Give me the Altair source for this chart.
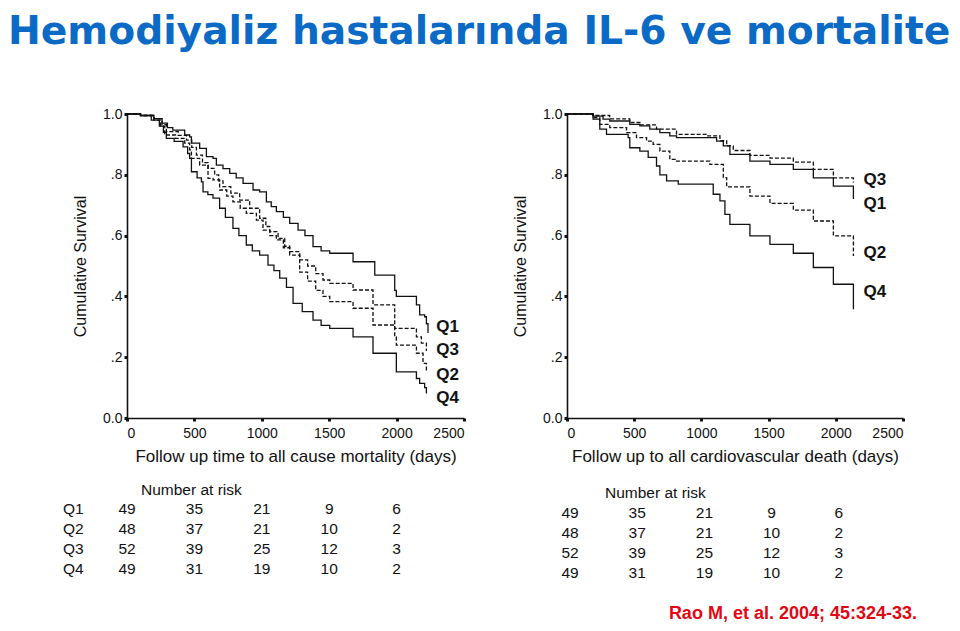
import altair as alt
import pandas as pd

TITLE = "Hemodiyaliz hastalarında IL-6 ve mortalite"
CITATION = "Rao M, et al. 2004; 45:324-33."
GROUPS = ["Q1", "Q2", "Q3", "Q4"]

# ---- all-cause mortality (left) ----
ac_q1_days = [0, 100, 200, 260, 300, 340, 428, 465, 478, 539, 589, 638, 663, 712, 762, 810, 861, 935, 984, 1034,
              1070, 1108, 1160, 1207, 1269, 1320, 1380, 1440, 1504, 1677, 1838, 1986, 1998, 2147, 2171, 2208, 2221, 2233]
ac_q1_surv = [1.0, .995, .985, .97, .955, .947, .931, .925, .904, .887, .86, .854, .832, .82, .805, .79, .772, .75, .744, .711,
              .695, .679, .66, .64, .618, .60, .564, .55, .542, .514, .47, .42, .40, .372, .339, .333, .31, .28]
ac_q2_days = [0, 100, 200, 250, 280, 360, 428, 465, 478, 539, 601, 638, 687, 740, 786, 840, 885, 960, 1009, 1060,
              1108, 1160, 1207, 1281, 1340, 1400, 1454, 1504, 1677, 1825, 1986, 1998, 2147, 2196, 2221]
ac_q2_surv = [1.0, .995, .98, .96, .931, .92, .904, .882, .854, .832, .788, .783, .75, .73, .711, .69, .673, .651, .618, .60,
              .586, .56, .536, .48, .45, .42, .40, .383, .361, .306, .267, .24, .213, .18, .152]
ac_q3_days = [0, 100, 200, 260, 292, 380, 441, 480, 515, 560, 601, 650, 680, 712, 770, 836, 910, 984, 1030, 1059,
              1121, 1170, 1207, 1281, 1340, 1400, 1454, 1504, 1677, 1825, 1986, 2147, 2184, 2221]
ac_q3_surv = [1.0, .995, .985, .965, .942, .93, .914, .89, .865, .84, .821, .80, .78, .761, .74, .717, .69, .657, .63, .613,
              .591, .565, .547, .52, .50, .475, .454, .443, .421, .372, .295, .267, .246, .22]
ac_q4_days = [0, 100, 180, 240, 270, 292, 350, 416, 450, 465, 478, 520, 552, 564, 600, 638, 687, 730, 786, 830,
              885, 930, 984, 1046, 1090, 1133, 1183, 1232, 1300, 1380, 1440, 1504, 1677, 1825, 1998, 2147, 2171, 2208, 2221]
ac_q4_surv = [1.0, .995, .98, .96, .94, .92, .91, .892, .87, .854, .81, .79, .777, .744, .735, .723, .69, .66, .624, .60,
              .569, .55, .536, .503, .485, .46, .43, .377, .35, .322, .305, .295, .267, .213, .152, .13, .114, .10, .081]

# ---- cardiovascular death (right) ----
cv_q1_days = [0, 194, 268, 318, 467, 542, 616, 691, 765, 815, 1113, 1163, 1212, 1361, 1510, 1684, 1833, 1982, 2131]
cv_q1_surv = [1.0, .993, .983, .977, .966, .961, .95, .939, .928, .922, .911, .895, .867, .845, .834, .818, .79, .763, .72]
cv_q2_days = [0, 194, 244, 318, 443, 517, 592, 641, 691, 765, 815, 1063, 1163, 1188, 1361, 1510, 1684, 1833, 1982, 2131]
cv_q2_surv = [1.0, .988, .966, .955, .939, .922, .911, .90, .878, .851, .845, .834, .791, .76, .73, .706, .684, .648, .599, .533]
cv_q3_days = [0, 194, 318, 467, 542, 666, 815, 1039, 1138, 1188, 1237, 1361, 1510, 1684, 1833, 1982, 2131]
cv_q3_surv = [1.0, .995, .984, .972, .964, .95, .933, .928, .912, .895, .88, .864, .855, .842, .818, .79, .775]
cv_q4_days = [0, 194, 244, 294, 455, 467, 542, 604, 666, 691, 741, 828, 1088, 1138, 1175, 1212, 1361, 1510, 1684, 1833,
              1982, 2131]
cv_q4_surv = [1.0, .983, .95, .933, .922, .889, .878, .857, .829, .80, .78, .769, .736, .714, .67, .637, .599, .571, .542, .495,
              .44, .358]

# ---- number at risk ----
risk_days = [0, 500, 1000, 1500, 2000]
risk_q1 = [49, 35, 21, 9, 6]
risk_q2 = [48, 37, 21, 10, 2]
risk_q3 = [52, 39, 25, 12, 3]
risk_q4 = [49, 31, 19, 10, 2]

# ---- curve end labels (anchor in data units) ----
ac_label_day = 2295
ac_label_surv = {"Q1": 0.30, "Q3": 0.224, "Q2": 0.141, "Q4": 0.067}
cv_label_day = 2206
cv_label_surv = {"Q3": 0.782, "Q1": 0.703, "Q2": 0.544, "Q4": 0.414}

FONT = "Liberation Sans"


def curves_df(parts):
    rows = []
    for g, days, surv in parts:
        assert len(days) == len(surv), g
        for d, s in zip(days, surv):
            rows.append({"group": g, "day": d, "surv": s})
    return pd.DataFrame(rows)


def panel(parts, label_day, label_surv, xtitle, width, risk_y0, risk_dx, nar_x, nar_y,
          row_labels, citation=False, title=False):
    df = curves_df(parts)
    xscale = alt.Scale(domain=[0, 2500], nice=False)
    yscale = alt.Scale(domain=[0, 1], nice=False)
    lines = alt.Chart(df).mark_line(interpolate="step-after", color="#111", strokeWidth=1.3).encode(
        x=alt.X("day:Q", scale=xscale,
                axis=alt.Axis(values=[0, 500, 1000, 1500, 2000, 2500], format="d", title=xtitle, titleFontSize=17,
                              titlePadding=8, labelPadding=5)),
        y=alt.Y("surv:Q", scale=yscale,
                axis=alt.Axis(values=[0, .2, .4, .6, .8, 1.0], title="Cumulative Survival", titleFontSize=16,
                              titlePadding=14, labelPadding=2,
                              labelExpr="datum.value == 0 ? '0.0' : datum.value == 1 ? '1.0' : '.' + round(datum.value * 10)")),
        strokeDash=alt.StrokeDash("group:N", scale=alt.Scale(domain=GROUPS, range=[[1, 0], [4, 2], [4, 2], [1, 0]]),
                                  legend=None),
    )
    ldf = pd.DataFrame({"group": list(label_surv.keys()), "surv": list(label_surv.values()),
                        "day": [label_day] * len(label_surv)})
    labels = alt.Chart(ldf).mark_text(align="left", baseline="middle", font=FONT, fontSize=17,
                                      fontWeight="bold", color="#111").encode(
        x=alt.X("day:Q", scale=xscale), y=alt.Y("surv:Q", scale=yscale), text="group:N")
    layers = [lines, labels]

    risk = [risk_q1, risk_q2, risk_q3, risk_q4]
    for i, g in enumerate(GROUPS):
        rdf = pd.DataFrame({"day": risk_days, "n": risk[i]})
        layers.append(alt.Chart(rdf).mark_text(align="center", baseline="middle", font=FONT, fontSize=15.5,
                                               color="#111", dx=risk_dx).encode(
            x=alt.X("day:Q", scale=xscale), y=alt.value(risk_y0 + 20 * i), text="n:Q"))
        if row_labels:
            layers.append(alt.Chart(pd.DataFrame({"g": [g]})).mark_text(
                align="left", baseline="middle", font=FONT, fontSize=15.5, color="#111").encode(
                x=alt.value(-64), y=alt.value(risk_y0 + 20 * i), text="g:N"))
    layers.append(alt.Chart(pd.DataFrame({"t": ["Number at risk"]})).mark_text(
        align="left", baseline="middle", font=FONT, fontSize=15.5, color="#111").encode(
        x=alt.value(nar_x), y=alt.value(nar_y), text="t:N"))
    if citation:
        layers.append(alt.Chart(pd.DataFrame({"t": [CITATION]})).mark_text(
            align="right", baseline="middle", font=FONT, fontSize=18, fontWeight="bold", color="#e30613").encode(
            x=alt.value(350), y=alt.value(500), text="t:N"))
    if title:
        layers.append(alt.Chart(pd.DataFrame({"t": [TITLE]})).mark_text(
            align="left", baseline="top", font="DejaVu Sans", fontSize=39.2, fontWeight="bold",
            color="#0b6ac6").encode(x=alt.value(-119), y=alt.value(-101), text="t:N"))
    return alt.layer(*layers).properties(width=width, height=304)


left = panel([("Q1", ac_q1_days, ac_q1_surv), ("Q2", ac_q2_days, ac_q2_surv),
              ("Q3", ac_q3_days, ac_q3_surv), ("Q4", ac_q4_days, ac_q4_surv)],
             ac_label_day, ac_label_surv, "Follow up time to all cause mortality (days)", 337,
             risk_y0=395, risk_dx=0, nar_x=14, nar_y=376, row_labels=True, title=True)
right = panel([("Q1", cv_q1_days, cv_q1_surv), ("Q2", cv_q2_days, cv_q2_surv),
               ("Q3", cv_q3_days, cv_q3_surv), ("Q4", cv_q4_days, cv_q4_surv)],
              cv_label_day, cv_label_surv, "Follow up to all cardiovascular death (days)", 336,
              risk_y0=399, risk_dx=3, nar_x=38, nar_y=379, row_labels=False, citation=True)

chart = alt.hconcat(left, right, spacing=103, bounds="flush").properties(
    padding={"top": 5, "left": 0, "right": 0, "bottom": 0},
    background="white",
).configure_axis(
    grid=False, domainColor="#111", domainWidth=1.6, tickColor="#111", tickSize=3, tickWidth=3,
    labelFont=FONT, labelFontSize=14, labelColor="#111", titleFont=FONT, titleFontWeight="normal",
    titleColor="#111",
).configure_view(stroke=None)

chart.save("out.html", embed_options={"renderer": "svg", "actions": False})
